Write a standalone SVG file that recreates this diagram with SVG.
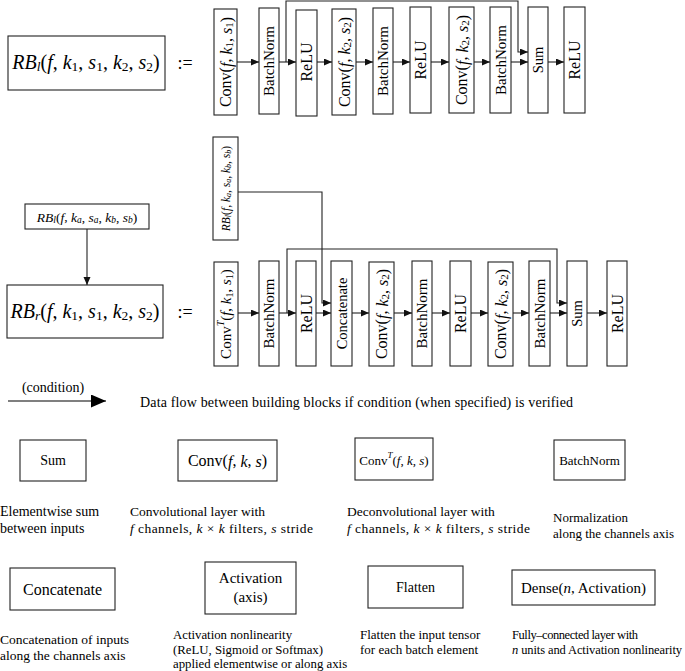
<svg xmlns="http://www.w3.org/2000/svg" width="685" height="671" viewBox="0 0 685 671">
<style>
.bx{fill:#fff;stroke:#222;stroke-width:1.1}
.t{font-family:"Liberation Serif","Times New Roman",serif;fill:#000}
.i{font-style:italic}
.c{text-anchor:middle;dominant-baseline:central}
.ln{fill:none;stroke:#222;stroke-width:1.1}
</style>
<defs>
<marker id="ah" markerUnits="userSpaceOnUse" markerWidth="9" markerHeight="8" refX="8" refY="3.5" orient="auto"><path d="M0,0 L8,3.5 L0,7 z" fill="#111"/></marker>
<marker id="big" markerUnits="userSpaceOnUse" markerWidth="16" markerHeight="14" refX="15" refY="6.5" orient="auto"><path d="M0,0 L15,6.5 L0,13 z" fill="#000"/></marker>
</defs>

<!-- Top row definition -->
<g id="rbl-def">
<rect class="bx" x="8" y="36" width="157" height="54"/>
<text class="t c" x="86" y="62" font-size="20"><tspan class="i">RB</tspan><tspan class="i" font-size="13.5" dy="4">l</tspan><tspan dy="-4">(</tspan><tspan class="i">f</tspan>, <tspan class="i">k</tspan><tspan font-size="13.5" dy="4">1</tspan><tspan dy="-4">, </tspan><tspan class="i">s</tspan><tspan font-size="13.5" dy="4">1</tspan><tspan dy="-4">, </tspan><tspan class="i">k</tspan><tspan font-size="13.5" dy="4">2</tspan><tspan dy="-4">, </tspan><tspan class="i">s</tspan><tspan font-size="13.5" dy="4">2</tspan><tspan dy="-4">)</tspan></text>
</g>
<g id="assign1"><text class="t c" x="185" y="63" font-size="18">:=</text></g>

<g id="r1-conv1"><rect class="bx" x="214" y="9" width="23" height="106"/>
<text class="t c" transform="translate(225.5,62) rotate(-90)" font-size="16">Conv(<tspan class="i">f</tspan>, <tspan class="i">k</tspan><tspan font-size="11" dy="3">1</tspan><tspan dy="-3">, </tspan><tspan class="i">s</tspan><tspan font-size="11" dy="3">1</tspan><tspan dy="-3">)</tspan></text></g>
<g id="r1-bn1"><rect class="bx" x="259" y="8" width="20" height="106"/>
<text class="t c" transform="translate(269,61) rotate(-90)" font-size="15">BatchNorm</text></g>
<g id="r1-relu1"><rect class="bx" x="296" y="10" width="21" height="106"/>
<text class="t c" transform="translate(306.5,62) rotate(-90)" font-size="16">ReLU</text></g>
<g id="r1-conv2"><rect class="bx" x="332" y="9" width="24" height="106"/>
<text class="t c" transform="translate(344,62) rotate(-90)" font-size="16">Conv(<tspan class="i">f</tspan>, <tspan class="i">k</tspan><tspan font-size="11" dy="3">2</tspan><tspan dy="-3">, </tspan><tspan class="i">s</tspan><tspan font-size="11" dy="3">2</tspan><tspan dy="-3">)</tspan></text></g>
<g id="r1-bn2"><rect class="bx" x="373" y="8" width="20" height="106"/>
<text class="t c" transform="translate(383,61) rotate(-90)" font-size="15">BatchNorm</text></g>
<g id="r1-relu2"><rect class="bx" x="410" y="7" width="21" height="106"/>
<text class="t c" transform="translate(420.5,60) rotate(-90)" font-size="16">ReLU</text></g>
<g id="r1-conv3"><rect class="bx" x="449" y="7" width="25" height="106"/>
<text class="t c" transform="translate(461.5,60) rotate(-90)" font-size="16">Conv(<tspan class="i">f</tspan>, <tspan class="i">k</tspan><tspan font-size="11" dy="3">2</tspan><tspan dy="-3">, </tspan><tspan class="i">s</tspan><tspan font-size="11" dy="3">2</tspan><tspan dy="-3">)</tspan></text></g>
<g id="r1-bn3"><rect class="bx" x="490" y="7" width="21" height="106"/>
<text class="t c" transform="translate(500.5,60) rotate(-90)" font-size="15">BatchNorm</text></g>
<g id="r1-sum"><rect class="bx" x="528" y="7" width="20" height="106"/>
<text class="t c" transform="translate(538,60) rotate(-90)" font-size="14.5">Sum</text></g>
<g id="r1-relu3"><rect class="bx" x="564" y="7" width="21" height="106"/>
<text class="t c" transform="translate(574.5,60) rotate(-90)" font-size="16">ReLU</text></g>

<!-- Second row definition -->
<g id="rbl-input"><rect class="bx" x="25" y="204" width="124" height="25"/>
<text class="t c" x="87" y="216.5" font-size="13.5"><tspan class="i">RB</tspan><tspan class="i" font-size="9.5" dy="3">l</tspan><tspan dy="-3">(</tspan><tspan class="i">f</tspan>, <tspan class="i">k</tspan><tspan class="i" font-size="9.5" dy="3">a</tspan><tspan dy="-3">, </tspan><tspan class="i">s</tspan><tspan class="i" font-size="9.5" dy="3">a</tspan><tspan dy="-3">, </tspan><tspan class="i">k</tspan><tspan class="i" font-size="9.5" dy="3">b</tspan><tspan dy="-3">, </tspan><tspan class="i">s</tspan><tspan class="i" font-size="9.5" dy="3">b</tspan><tspan dy="-3">)</tspan></text></g>
<g id="rbr-def"><rect class="bx" x="7" y="285" width="156" height="53"/>
<text class="t c" x="85" y="311" font-size="20"><tspan class="i">RB</tspan><tspan class="i" font-size="13.5" dy="4">r</tspan><tspan dy="-4">(</tspan><tspan class="i">f</tspan>, <tspan class="i">k</tspan><tspan font-size="13.5" dy="4">1</tspan><tspan dy="-4">, </tspan><tspan class="i">s</tspan><tspan font-size="13.5" dy="4">1</tspan><tspan dy="-4">, </tspan><tspan class="i">k</tspan><tspan font-size="13.5" dy="4">2</tspan><tspan dy="-4">, </tspan><tspan class="i">s</tspan><tspan font-size="13.5" dy="4">2</tspan><tspan dy="-4">)</tspan></text></g>
<g id="assign2"><text class="t c" x="185" y="312" font-size="18">:=</text></g>

<g id="r2-skipin"><rect class="bx" x="213" y="137" width="25" height="103"/>
<text class="t c" transform="translate(225.5,188.5) rotate(-90)" font-size="11.5"><tspan class="i">RB</tspan><tspan class="i" font-size="8" dy="2">l</tspan><tspan dy="-2">(</tspan><tspan class="i">f</tspan>, <tspan class="i">k</tspan><tspan class="i" font-size="8" dy="2">a</tspan><tspan dy="-2">, </tspan><tspan class="i">s</tspan><tspan class="i" font-size="8" dy="2">a</tspan><tspan dy="-2">, </tspan><tspan class="i">k</tspan><tspan class="i" font-size="8" dy="2">b</tspan><tspan dy="-2">, </tspan><tspan class="i">s</tspan><tspan class="i" font-size="8" dy="2">b</tspan><tspan dy="-2">)</tspan></text></g>

<g id="r2-convt"><rect class="bx" x="214" y="262" width="24" height="104"/>
<text class="t c" transform="translate(226,314) rotate(-90)" font-size="15">Conv<tspan font-size="10" class="i" baseline-shift="6">T</tspan>(<tspan class="i">f</tspan>, <tspan class="i">k</tspan><tspan font-size="10" dy="3">1</tspan><tspan dy="-3">, </tspan><tspan class="i">s</tspan><tspan font-size="10" dy="3">1</tspan><tspan dy="-3">)</tspan></text></g>
<g id="r2-bn1"><rect class="bx" x="259" y="261" width="20" height="105"/>
<text class="t c" transform="translate(269,313.5) rotate(-90)" font-size="15">BatchNorm</text></g>
<g id="r2-relu1"><rect class="bx" x="296" y="261" width="20" height="105"/>
<text class="t c" transform="translate(306,313.5) rotate(-90)" font-size="16">ReLU</text></g>
<g id="r2-concat"><rect class="bx" x="331" y="261" width="21" height="105"/>
<text class="t c" transform="translate(341.5,313.5) rotate(-90)" font-size="14.5">Concatenate</text></g>
<g id="r2-conv1"><rect class="bx" x="369" y="262" width="25" height="104"/>
<text class="t c" transform="translate(381.5,314) rotate(-90)" font-size="16">Conv(<tspan class="i">f</tspan>, <tspan class="i">k</tspan><tspan font-size="11" dy="3">2</tspan><tspan dy="-3">, </tspan><tspan class="i">s</tspan><tspan font-size="11" dy="3">2</tspan><tspan dy="-3">)</tspan></text></g>
<g id="r2-bn2"><rect class="bx" x="412" y="261" width="20" height="105"/>
<text class="t c" transform="translate(422,313.5) rotate(-90)" font-size="15">BatchNorm</text></g>
<g id="r2-relu2"><rect class="bx" x="450" y="261" width="21" height="105"/>
<text class="t c" transform="translate(460.5,313.5) rotate(-90)" font-size="16">ReLU</text></g>
<g id="r2-conv2"><rect class="bx" x="488" y="262" width="25" height="104"/>
<text class="t c" transform="translate(500.5,314) rotate(-90)" font-size="16">Conv(<tspan class="i">f</tspan>, <tspan class="i">k</tspan><tspan font-size="11" dy="3">2</tspan><tspan dy="-3">, </tspan><tspan class="i">s</tspan><tspan font-size="11" dy="3">2</tspan><tspan dy="-3">)</tspan></text></g>
<g id="r2-bn3"><rect class="bx" x="529" y="261" width="21" height="105"/>
<text class="t c" transform="translate(539.5,313.5) rotate(-90)" font-size="15">BatchNorm</text></g>
<g id="r2-sum"><rect class="bx" x="567" y="261" width="20" height="105"/>
<text class="t c" transform="translate(577,313.5) rotate(-90)" font-size="14.5">Sum</text></g>
<g id="r2-relu3"><rect class="bx" x="607" y="261" width="20" height="105"/>
<text class="t c" transform="translate(617,313.5) rotate(-90)" font-size="16">ReLU</text></g>

<!-- Connectors -->
<g id="connectors" class="ln">
<path d="M237,62 H259" marker-end="url(#ah)"/>
<path d="M279,62 H296" marker-end="url(#ah)"/>
<path d="M317,62 H332" marker-end="url(#ah)"/>
<path d="M356,62 H373" marker-end="url(#ah)"/>
<path d="M393,62 H410" marker-end="url(#ah)"/>
<path d="M431,62 H449" marker-end="url(#ah)"/>
<path d="M474,62 H490" marker-end="url(#ah)"/>
<path d="M511,62 H528" marker-end="url(#ah)"/>
<path d="M548,62 H564" marker-end="url(#ah)"/>
<path d="M286,62 V1 H518 V52 H528" marker-end="url(#ah)"/>

<path d="M87,229 V285" marker-end="url(#ah)"/>
<path d="M238,192 H322 V303 H331" marker-end="url(#ah)"/>
<path d="M238,313 H259" marker-end="url(#ah)"/>
<path d="M279,313 H296" marker-end="url(#ah)"/>
<path d="M316,313 H331" marker-end="url(#ah)"/>
<path d="M352,313 H369" marker-end="url(#ah)"/>
<path d="M394,313 H412" marker-end="url(#ah)"/>
<path d="M432,313 H450" marker-end="url(#ah)"/>
<path d="M471,313 H488" marker-end="url(#ah)"/>
<path d="M513,313 H529" marker-end="url(#ah)"/>
<path d="M550,313 H567" marker-end="url(#ah)"/>
<path d="M587,313 H607" marker-end="url(#ah)"/>
<path d="M287,313 V249 H557 V303 H567" marker-end="url(#ah)"/>

<path d="M8,401 H106" stroke="#000" marker-end="url(#big)"/>
</g>

<!-- Legend -->
<g id="legend-flow">
<text class="t c" x="53" y="387" font-size="14">(condition)</text>
<text class="t" x="140" y="407" font-size="14" textLength="433">Data flow between building blocks if condition (when specified) is verified</text>
</g>

<g id="leg-sum"><rect class="bx" x="20" y="440" width="66" height="41"/>
<text class="t c" x="53" y="460.5" font-size="14">Sum</text>
<text class="t" font-size="14"><tspan x="0" y="516">Elementwise sum</tspan><tspan x="0" y="533">between inputs</tspan></text></g>

<g id="leg-conv"><rect class="bx" x="178" y="440" width="99" height="41"/>
<text class="t c" x="227.5" y="460.5" font-size="16">Conv(<tspan class="i">f</tspan>, <tspan class="i">k</tspan>, <tspan class="i">s</tspan>)</text>
<text class="t" x="130" y="516" font-size="13.5">Convolutional layer with</text>
<text class="t" x="130" y="533" font-size="13.5" textLength="183"><tspan class="i">f</tspan> channels, <tspan class="i">k</tspan> × <tspan class="i">k</tspan> filters, <tspan class="i">s</tspan> stride</text></g>

<g id="leg-convt"><rect class="bx" x="355" y="438" width="78" height="42"/>
<text class="t c" x="394" y="460" font-size="13">Conv<tspan class="i" font-size="9" baseline-shift="5">T</tspan>(<tspan class="i">f</tspan>, <tspan class="i">k</tspan>, <tspan class="i">s</tspan>)</text>
<text class="t" x="347" y="516" font-size="13.5">Deconvolutional layer with</text>
<text class="t" x="347" y="533" font-size="13.5" textLength="183"><tspan class="i">f</tspan> channels, <tspan class="i">k</tspan> × <tspan class="i">k</tspan> filters, <tspan class="i">s</tspan> stride</text></g>

<g id="leg-bn"><rect class="bx" x="554" y="440" width="71" height="40"/>
<text class="t c" x="589.5" y="460" font-size="13">BatchNorm</text>
<text class="t" font-size="13"><tspan x="553" y="522">Normalization</tspan><tspan x="553" y="538">along the channels axis</tspan></text></g>

<g id="leg-concat"><rect class="bx" x="10" y="568" width="105" height="42"/>
<text class="t c" x="62.5" y="589" font-size="16">Concatenate</text>
<text class="t" font-size="13.5"><tspan x="0" y="644">Concatenation of inputs</tspan><tspan x="0" y="660">along the channels axis</tspan></text></g>

<g id="leg-act"><rect class="bx" x="205" y="562" width="91" height="52"/>
<text class="t c" font-size="15"><tspan x="250.5" y="578">Activation</tspan><tspan x="250.5" y="597">(axis)</tspan></text>
<text class="t" font-size="12.8"><tspan x="173" y="639">Activation nonlinearity</tspan><tspan x="173" y="654">(ReLU, Sigmoid or Softmax)</tspan><tspan x="173" y="668">applied elementwise or along axis</tspan></text></g>

<g id="leg-flatten"><rect class="bx" x="368" y="566" width="95" height="42"/>
<text class="t c" x="415.5" y="587" font-size="14">Flatten</text>
<text class="t" font-size="13"><tspan x="360" y="639">Flatten the input tensor</tspan><tspan x="360" y="654">for each batch element</tspan></text></g>

<g id="leg-dense"><rect class="bx" x="512" y="570" width="143" height="35"/>
<text class="t c" x="583.5" y="587.5" font-size="15">Dense(<tspan class="i">n</tspan>, Activation)</text>
<text class="t" x="512" y="639" font-size="12.5" textLength="126">Fully–connected layer with</text>
<text class="t" x="512" y="654" font-size="12.5" textLength="170"><tspan class="i">n</tspan> units and Activation nonlinearity</text></g>
</svg>
